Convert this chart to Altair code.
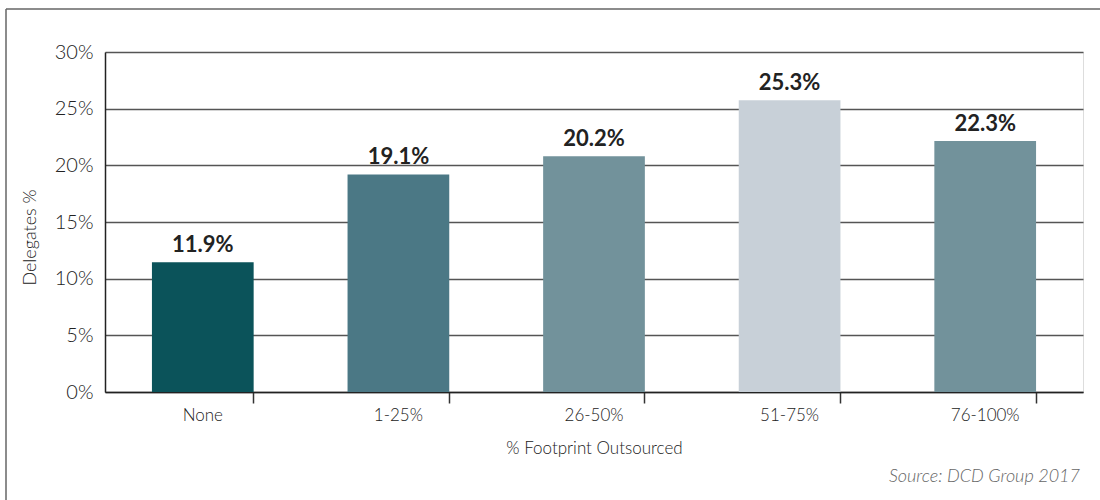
import altair as alt
import pandas as pd

categories = ["None", "1-25%", "26-50%", "51-75%", "76-100%"]
bar_values = [11.45, 19.2, 20.8, 25.75, 22.15]
label_text = ["11.9%", "19.1%", "20.2%", "25.3%", "22.3%"]
colors = ["#0b535a", "#4b7885", "#72929b", "#c8d0d8", "#72929b"]

df = pd.DataFrame({"cat": categories, "val": bar_values, "label": label_text, "color": colors})

FONT = "Lato"
W, H = 978, 340

x_enc = alt.X("cat:N", sort=categories, title="% Footprint Outsourced",
              scale=alt.Scale(paddingInner=0.48, paddingOuter=0.24),
              axis=alt.Axis(labelAngle=0, bandPosition=1, tickSize=11, tickColor="#333",
                            tickWidth=1.5, domainColor="#222", domainWidth=1.5,
                            labelFont=FONT, labelFontSize=17, labelColor="#222",
                            labelFontWeight=300, labelPadding=4,
                            titleFont=FONT, titleFontSize=17, titleFontWeight=300,
                            titleColor="#222", titleY=56, titleBaseline="middle"))
y_enc = alt.Y("val:Q", title="Delegates %",
              scale=alt.Scale(domain=[0, 30], nice=False),
              axis=alt.Axis(values=[0, 5, 10, 15, 20, 25, 30],
                            labelExpr="datum.value + '%'", tickSize=0,
                            labelFont=FONT, labelFontSize=20, labelColor="#222",
                            labelFontWeight=300, labelPadding=12,
                            domainColor="#222", domainWidth=1.5,
                            grid=True, gridColor="#555", gridWidth=1.3,
                            titleFont=FONT, titleFontSize=18, titleFontWeight=300,
                            titleColor="#222", titleX=-75, titleY=185,
                            titleAngle=-90, titleAlign="center", titleBaseline="middle"))

bars = alt.Chart(df).mark_bar().encode(
    x=x_enc, y=y_enc,
    color=alt.Color("color:N", scale=None),
)

labels = alt.Chart(df).mark_text(font=FONT, fontSize=22, fontWeight="bold", color="#222",
                                 baseline="alphabetic", dy=-10).encode(
    x=alt.X("cat:N", sort=categories), y="val:Q", text="label:N")

src = alt.Chart(pd.DataFrame({"t": ["Source: DCD Group 2017"]})).mark_text(
    font=FONT, fontSize=18, fontStyle="italic", fontWeight=300, color="#666",
    align="right", baseline="middle").encode(
    text="t:N", x=alt.value(W - 3), y=alt.value(H + 85))

frame_top = alt.Chart(pd.DataFrame({"a": [0]})).mark_rule(color="#666", strokeWidth=1.5).encode(
    x=alt.value(-99), x2=alt.value(W + 17), y=alt.value(-43))
frame_left = alt.Chart(pd.DataFrame({"a": [0]})).mark_rule(color="#666", strokeWidth=1.5).encode(
    x=alt.value(-99), y=alt.value(-43), y2=alt.value(H + 108))

chart = alt.layer(bars, labels, src, frame_top, frame_left).properties(
    width=W, height=H,
    autosize=alt.AutoSizeParams(type="none"),
    padding={"left": 105, "top": 52, "right": 17, "bottom": 108},
).configure_view(stroke=None).configure(background="white")

chart.save("out.html", embed_options={"renderer": "svg", "actions": False})
